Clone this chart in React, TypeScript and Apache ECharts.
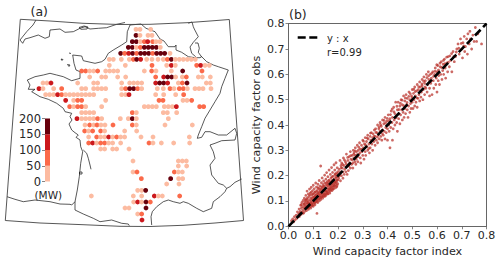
import React, { useEffect, useRef } from "react";
import * as echarts from "echarts";

const FONT = "DejaVu Sans";
const TEXT = "#262626";
const SPINE = "#666666";

const levelColors = ["#fcbba1", "#fb6a4a", "#cb181d", "#67000d"];
const levelMW = [25, 75, 125, 175];
const colorbarSteps = [50, 50, 50, 50];

// [row position, [column position, level index, ...]] in map units (1/3 px)
const dotRows: [number, number[]][] = [
  [88, [408,0,420,0,452,0]],
  [106, [408,3,420,0,444,0,456,0]],
  [125, [397,3,409,3,421,0,433,1,443,2,458,1,468,0,480,0]],
  [142, [385,3,397,3,409,0,421,1,433,3,445,3,457,3,469,3,481,0]],
  [160, [362,3,374,1,386,2,398,3,410,1,422,3,434,3,446,3,458,1,470,3,482,3,494,3,510,0]],
  [178, [328,0,340,0,364,0,388,0,400,1,410,3,422,2,440,0,456,0,474,0,490,0,502,1,514,3,526,0,538,0,550,0,562,0,574,0,586,0]],
  [196, [328,0,376,0,456,1,500,0,514,2,526,0,590,1,602,2,615,0,628,0]],
  [213, [245,1,257,1,269,0,281,0,293,1,317,0,329,0,341,0,353,0,433,0,455,1,468,0,514,0,548,3,606,1]],
  [231, [269,0,305,0,317,0,353,0,377,0,467,1,491,2,503,3,515,3,527,0,547,0,559,1,595,0,607,0,631,0]],
  [249, [129,0,141,0,153,2,233,0,281,0,293,0,365,0,389,0,401,0,413,0,425,0,467,2,479,3,491,3,503,2,535,0,547,1,561,3,619,0,631,0]],
  [266, [117,2,129,0,161,0,185,1,245,0,257,0,281,0,293,0,305,0,317,0,365,0,377,1,389,3,401,3,413,1,425,0,472,0,490,0,510,1,522,0,538,1,550,1,562,0,585,0,597,0,609,0,633,0]],
  [284, [137,0,149,0,161,0,173,2,185,1,197,0,209,0,221,0,233,0,245,0,257,0,269,0,281,0,365,0,377,0,387,2,467,0,491,0,527,0,551,1]],
  [301, [197,2,221,0,233,1,245,1,317,0,477,1,489,1,549,0,561,0,575,1]],
  [320, [209,1,221,0,233,1,245,1,257,0,305,0,433,0,445,0,457,0,469,0,493,0,505,0,517,0,529,2,599,1,611,1]],
  [338, [245,0,257,0,269,0,281,0,397,1,409,0,490,0,502,0,530,0]],
  [356, [231,2,245,0,257,0,269,0,281,0,293,1,305,0,361,0,385,0,397,3,409,0,505,0]],
  [375, [255,0,269,1,281,0,291,1,303,0,315,0,339,1,397,1,409,0,495,0,577,0]],
  [393, [254,1,266,0,278,1,302,1,314,0,374,0,410,0]],
  [411, [266,0,290,1,302,0,314,0,326,2,338,0,350,1,362,0,374,0,423,0,459,0,568,0]],
  [429, [266,1,278,2,290,0,302,1,314,1,326,0,338,0,362,0,447,1,459,0,484,0,521,0,569,0]],
  [447, [302,0,314,0,338,0,350,0,387,0]],
  [483, [399,0,535,0,547,0,559,0]],
  [498, [535,0,560,0]],
  [516, [399,0,411,1,523,1,535,0,547,0]],
  [536, [424,1,512,3,536,0,548,0]],
  [552, [500,0,537,0]],
  [571, [413,0,425,0,437,3]],
  [588, [274,0,400,0,425,0,463,2,475,0,487,0,539,1]],
  [606, [401,0,413,2,425,0,438,3,451,1]],
  [624, [375,0,387,0,438,3]],
  [642, [413,0,425,1]],
  [660, [426,2]],
];

const mapFrame = [
  [20.3,19.3],[50,21],[83,23.3],[120,24.5],[150,24.3],[187,22.7],[210,21],[229.3,19.5],
  [243.5,220.5],[215,223],[183,225.3],[150,226.5],[120,226.3],[83,224.7],[40,223],[5.3,220.5],[20.3,19.3],
];
const ukCoast = [
  [36,20],[33,25],[26.7,31.7],[20,40],[22.7,43.3],[25,39],[30,37.7],[38.3,35],[45,38.3],[49.3,36.7],[50,30],[60,29],[65,32.3],[73.3,31.7],[80,28.3],[85,26.7],[90,29],[98.3,28.3],[106.7,27.7],[116.7,24.3],[125,22.5],
];
const wight = [[79,27.5],[84,26],[88,27],[87,29],[81,29.3],[79,27.5]];
const franceNorth = [
  [141,24],[130,25],[127.3,31.7],[126.7,41.7],[121.7,45],[113.3,50],[108.3,53.3],[105,59.3],[101.7,61.7],[95,63.3],[83.3,60.7],[81.7,56],[72.7,55],[74,63.3],[76,70],[80,71.7],[80,78.3],[71.7,80.7],[63.3,76.7],[56.7,75],[50,73.3],[43.3,75],[35,76.7],[27.3,80],[30,85],[28.3,89.3],[35,89.3],[31.7,91.7],[40,96.7],[48.3,99.3],[56.7,103.3],[63.3,108.3],[65,111.7],[71.7,113.3],[70,116.7],[72,120],[69,124],[71.7,130],[75,132.7],[78.3,135],[76,137.3],[80,140],[80.7,146.7],[82.7,151.7],[80.7,163.3],[79.3,176.7],[77.3,190],[75,201.7],[71.7,205],[70,204.3],[60,204],[50,201.7],[35,200],[23.3,201.7],[15,199.3],[7,196.7],
];
const gironde = [[83.3,150],[86.7,153.3],[88.3,158.3],[90,165],[91,169.3]];
const oleron = [[79.5,172],[82,172],[82,174],[79.5,174],[79.5,172]];
const pyrenees = [[75,201.7],[75,210],[83.3,214],[93.3,218.3],[100,221.7],[111.7,220],[121.7,223.3],[128.3,224],[129.3,225.7]];
const belgium = [
  [141,24],[146,28.3],[155,31.7],[160,39],[164,41],[168.3,46.7],[175,46.7],[176,45],[176,50],[181.7,52.3],[188.3,56.7],[195,57.7],[200,57.7],[201.7,56.7],[206.7,61.7],[213.3,65],[218.3,66.7],[228.3,70],[225,78.3],[221.7,86.7],[220,93.3],[215,101.7],[210,110],[205,118.3],[201.7,126.7],[198.3,135],[197.3,138.3],[201.7,137.3],[205,131.7],[210,131.7],[218.3,135],[226.7,135],[235,128.3],[236.7,133.3],[235,140],[221.7,140.7],[215,143.3],[210,145],[213.3,151.7],[215,158.3],[210,165],[211.7,175],[218.3,183.3],[223.3,185],[226.7,188.3],[225,191.7],[220,196.7],[213.3,201.7],[211.7,208.3],[203.3,211.7],[196.7,208.3],[188.3,203.3],[183.3,201.7],[180,203.3],[173.3,201.7],[168.3,200],[163.3,201.7],[156.7,206.7],[152.3,211.7],[151,216.7],[151.7,225],
];
const netherlands = [[188.3,23.3],[192,22],[193.3,26.7],[194.3,29],[198.3,36.7],[193.3,42.3],[190,47],[191.7,53.3],[195.7,56.7]];
const luxembourg = [[195,43],[198,43],[199.3,48.3],[198.3,52.3],[201.7,57]];
const italy = [[241.7,179],[235,182.3],[230,186.7],[226.7,188.3]];
const jersey = [[61,59],[63,59.5],[62,60.5],[61,59]];
const guernsey = [[67.5,64.5],[70,65],[69,66.5],[67.5,64.5]];
const alderney = [[69,53],[71,53.5]];
const coasts = [ukCoast, wight, franceNorth, gironde, oleron, pyrenees, belgium, netherlands, luxembourg, italy, jersey, guernsey, alderney];

const identityLine = [[0, 0], [0.8, 0.8]];
const windPointsLow = [
[.012,.022],[.017,.029],[.021,.018],[.024,.038],[.027,.026],[.031,.044],[.033,.031],[.036,.057],[.039,.037],[.041,.049],[.043,.068],[.044,.039],[.047,.059],[.049,.083],[.051,.047],[.052,.071],[.054,.094],[.055,.056],[.057,.078],[.058,.063],[.059,.102],[.061,.052],[.062,.087],[.063,.071],[.064,.111],[.066,.059],[.066,.095],[.067,.079],[.069,.068],[.07,.122],[.071,.103],[.072,.086],[.073,.062],[.074,.094],[.075,.139],[.076,.072],[.077,.113],[.078,.081],[.079,.101],[.08,.128],[.081,.067],[.082,.09],[.083,.118],[.084,.076],[.085,.147],[.086,.105],[.087,.084],[.088,.132],[.089,.097],[.09,.072],[.091,.112],[.092,.154],[.093,.088],[.094,.124],[.095,.103],[.096,.081],[.097,.141],[.098,.094],[.099,.116],[.1,.162],[.101,.087],[.102,.129],[.103,.106],[.104,.148],[.105,.095],[.106,.119],[.107,.085],[.108,.137],[.109,.111],[.11,.171],[.111,.098],[.112,.126],[.113,.155],[.114,.104],[.115,.051],[.116,.142],[.117,.118],[.118,.094],[.119,.166],[.12,.131],[.121,.109],[.122,.149],[.123,.123],[.124,.181],[.125,.101],[.126,.138],[.127,.114],[.128,.159],[.129,.127],[.13,.238],[.131,.106],[.132,.146],[.133,.172],[.134,.119],[.135,.134],[.136,.191],[.137,.153],[.138,.111],[.139,.127],[.14,.165],[.141,.143],[.142,.179],[.143,.118],[.144,.136],[.145,.157],[.146,.202],[.147,.128],[.148,.171],[.149,.148],[.15,.122],[.151,.186],[.152,.139],[.153,.163],[.154,.212],[.155,.133],[.156,.152],[.157,.176],[.158,.127],[.159,.196],[.16,.144],[.161,.168],[.162,.137],[.163,.158],[.164,.222],[.165,.183],[.166,.149],[.167,.131],[.168,.174],[.169,.205],[.17,.162],[.171,.143],[.172,.191],[.173,.155],[.174,.232],[.175,.169],[.176,.141],[.177,.182],[.178,.213],[.179,.156],[.18,.174],[.181,.198],[.182,.148],[.183,.166],[.184,.243],[.185,.187],[.186,.159],[.187,.222],[.188,.176],[.189,.204],[.19,.165],[.191,.19],[.192,.251],[.193,.172],[.194,.211],[.195,.156],[.196,.183],[.197,.231],[.198,.196],[.199,.168],[.2,.216],
[.045,.052],[.052,.085],[.058,.052],[.064,.088],[.068,.104],[.07,.075],[.074,.108],[.078,.094],[.08,.072],[.083,.088],[.086,.124],[.088,.078],[.09,.093],[.092,.135],[.094,.085],[.096,.109],[.098,.128],[.1,.079],[.102,.098],[.104,.115],[.106,.134],[.108,.093],[.11,.122],[.112,.108],[.114,.137],[.116,.099],[.118,.128],[.12,.152],[.122,.107],[.124,.134],[.126,.119],[.128,.145],[.13,.112],[.132,.129],[.134,.155],[.136,.117],[.138,.142],[.14,.121],[.142,.159],[.144,.127],[.146,.148],[.148,.119],[.15,.139],[.152,.128],[.154,.171],[.156,.136],[.158,.161],[.16,.129],[.162,.18],[.164,.146],[.166,.168],[.168,.139],[.17,.152],[.172,.175],[.174,.147],[.176,.196],[.178,.162],[.18,.147],[.182,.182],[.184,.159],[.186,.174],[.188,.207],[.19,.152],[.192,.196],[.194,.178],[.196,.161],[.198,.207],[.2,.183],
];
const windPointsHigh = [
[.203,.19],[.205,.225],[.206,.2],[.208,.26],[.21,.18],[.21,.215],[.212,.24],[.214,.2],[.215,.25],[.217,.23],[.22,.19],[.22,.215],[.222,.27],[.224,.24],[.225,.205],[.227,.225],[.23,.255],[.232,.215],[.234,.285],[.235,.235],[.237,.205],[.24,.26],[.24,.24],[.242,.22],[.245,.275],[.247,.25],[.25,.23],[.25,.295],[.252,.265],[.255,.245],[.257,.28],[.26,.25],[.26,.23],[.262,.3],[.264,.27],[.265,.29],[.268,.255],[.27,.31],[.27,.28],[.272,.245],[.274,.265],[.275,.295],[.278,.32],[.28,.275],[.28,.255],[.282,.3],[.285,.285],[.287,.33],[.29,.27],[.29,.305],[.292,.25],[.295,.32],[.297,.295],[.3,.28],[.3,.34],[.302,.31],[.305,.265],[.307,.325],[.31,.295],[.31,.35],[.312,.28],[.315,.335],[.317,.315],[.32,.3],[.32,.36],[.322,.345],[.325,.325],[.327,.29],[.33,.355],[.33,.31],[.333,.34],[.335,.37],[.337,.325],[.34,.3],[.34,.35],[.342,.365],[.345,.335],[.347,.38],[.35,.32],[.35,.355],[.352,.385],[.355,.34],[.357,.37],[.36,.33],[.36,.4],[.362,.36],[.365,.385],[.367,.345],[.37,.41],[.37,.375],[.373,.355],[.375,.395],[.377,.34],[.38,.42],[.38,.38],[.383,.36],[.385,.405],[.387,.375],[.39,.345],[.39,.43],[.393,.39],[.395,.37],[.397,.415],[.4,.385],[.4,.34],[.403,.44],[.405,.4],[.407,.375],[.41,.425],[.41,.31],[.413,.39],[.415,.455],[.418,.41],[.42,.34],[.42,.43],[.423,.385],[.425,.47],[.427,.42],[.43,.4],[.43,.445],[.433,.49],[.435,.43],[.437,.41],[.44,.46],[.44,.375],[.443,.49],[.445,.425],[.447,.445],[.45,.475],[.45,.405],[.453,.44],[.455,.5],[.457,.46],[.46,.42],[.46,.48],[.463,.45],[.465,.515],[.467,.43],[.47,.495],[.47,.465],[.473,.445],[.475,.52],[.477,.48],[.48,.46],[.48,.505],[.483,.43],[.485,.475],[.487,.53],[.49,.5],[.49,.45],[.493,.485],[.495,.465],[.497,.515],[.5,.54],[.5,.49],[.503,.465],[.505,.525],[.507,.5],[.51,.475],[.51,.55],[.513,.515],[.515,.49],[.518,.535],[.52,.47],[.52,.56],[.523,.505],[.525,.54],[.527,.52],[.53,.495],[.53,.57],[.533,.55],[.535,.51],[.537,.53],[.54,.58],[.54,.555],[.543,.5],[.545,.54],[.547,.59],[.55,.52],[.55,.565],[.553,.575],[.555,.545],[.557,.6],[.56,.53],[.563,.56],[.565,.61],[.567,.58],[.57,.515],[.57,.545],[.573,.6],[.575,.565],[.577,.585],[.58,.52],[.583,.61],[.585,.575],[.587,.545],[.59,.6],[.593,.625],[.595,.56],[.597,.585],[.6,.53],[.6,.61],[.603,.635],[.605,.575],[.607,.595],[.61,.56],[.613,.63],[.615,.6],[.617,.65],[.62,.58],[.623,.615],[.625,.64],[.627,.6],[.63,.66],[.633,.625],[.635,.585],[.64,.645],[.643,.61],[.645,.67],[.65,.63],[.655,.655],[.66,.61],[.665,.69],[.67,.65],[.675,.67],[.68,.7],[.685,.72],[.69,.68],[.695,.74],[.7,.7],[.703,.665],[.705,.725],[.71,.75],[.712,.69],[.715,.71],[.72,.74],[.723,.68],[.725,.76],[.73,.72],[.733,.77],[.735,.74],[.74,.7],[.745,.755],[.75,.73],[.755,.785],[.76,.73],[.765,.76],[.78,.72],
[.213,.231],[.219,.244],[.226,.262],[.233,.247],[.239,.272],[.244,.238],[.251,.279],[.258,.262],[.263,.284],[.269,.297],[.277,.283],[.284,.312],[.289,.291],[.296,.304],[.303,.336],[.311,.322],[.318,.349],[.324,.307],[.331,.368],[.339,.338],[.346,.356],[.353,.371],[.359,.352],[.366,.392],[.372,.401],[.379,.366],[.386,.418],[.392,.408],[.399,.426],[.406,.417],[.412,.441],[.419,.463],[.426,.452],[.432,.428],[.438,.474],[.446,.461],[.452,.486],[.459,.498],[.466,.476],[.472,.507],[.479,.489],[.486,.513],[.492,.524],[.499,.508],[.506,.541],[.512,.532],[.519,.507],[.526,.551],[.532,.531],[.539,.562],[.546,.573],[.552,.55],[.559,.587],[.566,.594],[.572,.572],[.579,.604],[.586,.592],[.592,.612],[.599,.638],[.606,.617],[.612,.644],[.619,.627],[.626,.655],[.632,.642],[.639,.668],[.646,.648],[.652,.673],[.659,.682],[.668,.671],[.678,.688],[.688,.703],[.698,.722],[.708,.712],
];

export default function App() {
  const ref = useRef<HTMLDivElement>(null);
  useEffect(() => {
    document.body.style.margin = "0";
    const chart = echarts.init(ref.current!, null, { renderer: "svg" });
    const dots: any[] = [];
    dotRows.forEach(([row, cells]) => {
      for (let i = 0; i < cells.length; i += 2) {
        dots.push({ value: [cells[i] / 3, row / 3, levelMW[cells[i + 1]]], itemStyle: { color: levelColors[cells[i + 1]] } });
      }
    });
    const axisCommon = {
      nameTextStyle: { color: TEXT, fontFamily: FONT, fontSize: 11.2 },
      axisLine: { show: true, onZero: false, lineStyle: { color: SPINE, width: 1 } },
      axisTick: { show: true, length: 3, lineStyle: { color: SPINE, width: 0.8 } },
      axisLabel: { color: TEXT, fontFamily: FONT, fontSize: 11, margin: 4, formatter: (v: number) => v.toFixed(1) },
      splitLine: { show: false },
      min: 0, max: 0.8, interval: 0.1,
    };
    const hiddenAxis = { show: false };
    const series: any[] = [
      ...coasts.map((c) => ({
        type: "line", xAxisIndex: 0, yAxisIndex: 0, data: c, symbol: "none", silent: true,
        lineStyle: { color: "#111", width: 0.7 }, z: 2,
      })),
      {
        type: "line", xAxisIndex: 0, yAxisIndex: 0, data: mapFrame, symbol: "none", silent: true,
        lineStyle: { color: "#444", width: 0.9 }, z: 2,
      },
      { type: "scatter", xAxisIndex: 0, yAxisIndex: 0, data: dots, symbolSize: 4.8, z: 3, itemStyle: { opacity: 1 } },
      ...colorbarSteps.map((v, i) => ({
        type: "bar", xAxisIndex: 1, yAxisIndex: 1, stack: "cb", data: [v], barWidth: "100%",
        itemStyle: { color: levelColors[i] }, z: 4,
      })),
      {
        type: "scatter", xAxisIndex: 2, yAxisIndex: 2, data: [...windPointsLow, ...windPointsHigh], symbolSize: 2.8,
        itemStyle: { color: "#b8302a", opacity: 0.72 }, z: 3,
      },
      {
        type: "line", xAxisIndex: 2, yAxisIndex: 2, data: identityLine, symbol: "none",
        lineStyle: { color: "#000", width: 2.6, type: [8, 3.6] }, z: 5,
      },
    ];
    chart.setOption({
      animation: false,
      backgroundColor: "#fff",
      grid: [
        { left: 0, top: 0, width: 250, height: 263 },
        { left: 45, top: 118.5, width: 5, height: 63 },
        { left: 288.5, top: 23.7, width: 198, height: 202.6 },
      ],
      xAxis: [
        { ...hiddenAxis, type: "value", gridIndex: 0, min: 0, max: 250 },
        { type: "category", gridIndex: 1, data: [""], axisLine: { show: false }, axisTick: { show: false }, axisLabel: { show: false } },
        {
          ...axisCommon, type: "value", gridIndex: 2, name: "Wind capacity factor index",
          nameLocation: "middle", nameGap: 20, position: "bottom",
        },
        { type: "value", gridIndex: 2, position: "top", min: 0, max: 0.8, axisLine: { show: true, onZero: false, lineStyle: { color: SPINE } }, axisTick: { show: false }, axisLabel: { show: false }, splitLine: { show: false } },
      ],
      yAxis: [
        { ...hiddenAxis, type: "value", gridIndex: 0, min: 0, max: 263, inverse: true },
        {
          type: "value", gridIndex: 1, min: 0, max: 200, interval: 50, position: "left",
          axisLine: { show: false }, axisTick: { show: true, length: 3, lineStyle: { color: SPINE, width: 0.8 } },
          axisLabel: { color: TEXT, fontFamily: FONT, fontSize: 11.5, margin: 4 }, splitLine: { show: false },
        },
        {
          ...axisCommon, type: "value", gridIndex: 2, name: "Wind capacity factor obs",
          nameLocation: "middle", nameGap: 27, position: "left",
        },
        { type: "value", gridIndex: 2, position: "right", min: 0, max: 0.8, axisLine: { show: true, onZero: false, lineStyle: { color: SPINE } }, axisTick: { show: false }, axisLabel: { show: false }, splitLine: { show: false } },
      ],
      series,
      graphic: [
        { type: "text", x: 30.5, y: 4.5, style: { text: "(a)", font: `12.5px '${FONT}'`, fill: TEXT } },
        { type: "text", x: 289, y: 7.5, style: { text: "(b)", font: `12.5px '${FONT}'`, fill: TEXT } },
        { type: "text", x: 34.5, y: 189, style: { text: "(MW)", font: `10.5px '${FONT}'`, fill: TEXT } },
        { type: "line", shape: { x1: 297.7, y1: 37.5, x2: 318.5, y2: 37.5 }, style: { stroke: "#000", lineWidth: 2.6, lineDash: [8, 3.6] } },
        { type: "text", x: 327, y: 33, style: { text: "y : x", font: `10px '${FONT}'`, fill: TEXT } },
        { type: "text", x: 327, y: 47, style: { text: "r=0.99", font: `10px '${FONT}'`, fill: TEXT } },
      ],
    });
    return () => chart.dispose();
  }, []);
  return <div ref={ref} style={{ width: 500, height: 263 }} />;
}
